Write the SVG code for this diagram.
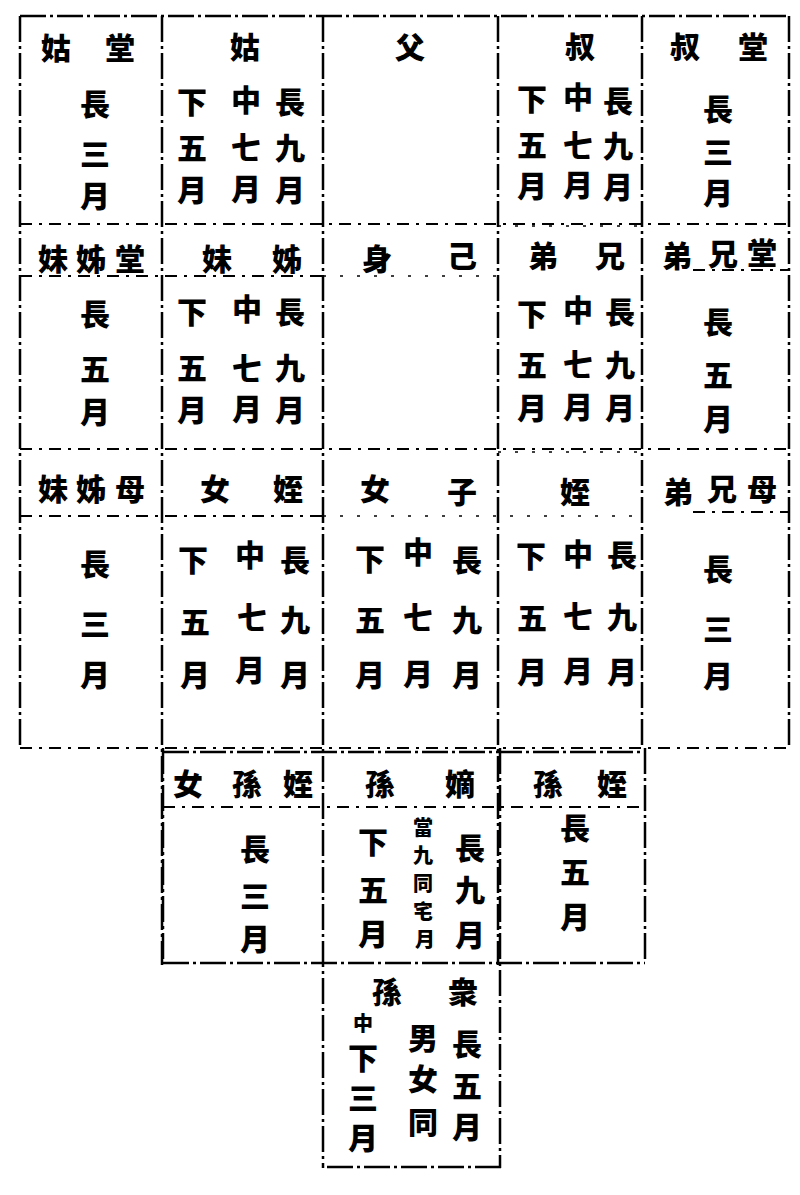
<svg xmlns="http://www.w3.org/2000/svg" width="800" height="1195" viewBox="0 0 800 1195">
<style>
.t{font-family:"Noto Sans CJK TC","Noto Sans CJK SC",sans-serif;font-weight:900;font-size:30px;fill:#000;text-anchor:middle;dominant-baseline:central}
.s{font-size:20px}
.b{stroke:#000;stroke-width:2.5;fill:none;stroke-dasharray:26 4 3 4}
.d{stroke:#000;stroke-width:2;fill:none;stroke-dasharray:12 7 3 7}
.f{stroke:#000;stroke-width:1.6;fill:none;stroke-dasharray:3 14}
</style>
<rect width="800" height="1195" fill="#fff"/>
<g id="grid">
<path class="b" d="M20 16H790M20 16V747M789 16V748M162 16V965M323 16V1168M498 16V965M642 16V748"/>
<path class="d" d="M20 224H790M20 449H790M20 748H790"/>
<path class="b" d="M163 748V963M500 748V1168M645 748V963M163 963H645M327 1167H502M163 752H645"/>
<path class="d" d="M20 276H323M693 270H790M20 516H323M693 512H790M163 807H645"/>
<path class="f" d="M323 276H498M498 226H642M323 516H642M498 452H642"/>
</g>
<g id="cell-tanggu">
<text class="t" x="56" y="46">姑</text><text class="t" x="120" y="46">堂</text>
<text class="t" x="95" y="102">長</text><text class="t" x="95" y="152">三</text><text class="t" x="95" y="194">月</text>
</g>
<g id="cell-gu">
<text class="t" x="245" y="45">姑</text>
<text class="t" x="192" y="100">下</text><text class="t" x="246" y="98">中</text><text class="t" x="290" y="100">長</text>
<text class="t" x="192" y="146">五</text><text class="t" x="246" y="145">七</text><text class="t" x="290" y="146">九</text>
<text class="t" x="192" y="188">月</text><text class="t" x="246" y="187">月</text><text class="t" x="290" y="188">月</text>
</g>
<g id="cell-fu">
<text class="t" x="410" y="45">父</text>
</g>
<g id="cell-shu">
<text class="t" x="580" y="45">叔</text>
<text class="t" x="532" y="97">下</text><text class="t" x="578" y="95">中</text><text class="t" x="618" y="99">長</text>
<text class="t" x="532" y="143">五</text><text class="t" x="578" y="143">七</text><text class="t" x="618" y="144">九</text>
<text class="t" x="532" y="184">月</text><text class="t" x="578" y="183">月</text><text class="t" x="618" y="185">月</text>
</g>
<g id="cell-tangshu">
<text class="t" x="685" y="45">叔</text><text class="t" x="753" y="45">堂</text>
<text class="t" x="718" y="107">長</text><text class="t" x="718" y="150">三</text><text class="t" x="718" y="191">月</text>
</g>
<g id="cell-tangzimei">
<text class="t" x="53" y="257">妹</text><text class="t" x="91" y="257">姊</text><text class="t" x="130" y="257">堂</text>
<text class="t" x="95" y="312">長</text><text class="t" x="95" y="367">五</text><text class="t" x="95" y="410">月</text>
</g>
<g id="cell-zimei">
<text class="t" x="217" y="257">妹</text><text class="t" x="287" y="257">姊</text>
<text class="t" x="192" y="310">下</text><text class="t" x="247" y="307">中</text><text class="t" x="290" y="310">長</text>
<text class="t" x="192" y="366">五</text><text class="t" x="247" y="366">七</text><text class="t" x="290" y="366">九</text>
<text class="t" x="192" y="408">月</text><text class="t" x="247" y="407">月</text><text class="t" x="290" y="408">月</text>
</g>
<g id="cell-jishen">
<text class="t" x="377" y="257">身</text><text class="t" x="462" y="254">己</text>
</g>
<g id="cell-xiongdi">
<text class="t" x="543" y="254">弟</text><text class="t" x="610" y="254">兄</text>
<text class="t" x="532" y="312">下</text><text class="t" x="578" y="308">中</text><text class="t" x="620" y="310">長</text>
<text class="t" x="532" y="363">五</text><text class="t" x="578" y="362">七</text><text class="t" x="620" y="363">九</text>
<text class="t" x="532" y="406">月</text><text class="t" x="578" y="405">月</text><text class="t" x="620" y="406">月</text>
</g>
<g id="cell-tangxiongdi">
<text class="t" x="677" y="254">弟</text><text class="t" x="723" y="252">兄</text><text class="t" x="762" y="251">堂</text>
<text class="t" x="718" y="320">長</text><text class="t" x="718" y="373">五</text><text class="t" x="718" y="417">月</text>
</g>
<g id="cell-muzimei">
<text class="t" x="53" y="487">妹</text><text class="t" x="91" y="487">姊</text><text class="t" x="130" y="487">母</text>
<text class="t" x="95" y="562">長</text><text class="t" x="95" y="622">三</text><text class="t" x="95" y="673">月</text>
</g>
<g id="cell-zhinv">
<text class="t" x="215" y="487">女</text><text class="t" x="288" y="487">姪</text>
<text class="t" x="193" y="558">下</text><text class="t" x="250" y="553">中</text><text class="t" x="295" y="558">長</text>
<text class="t" x="195" y="620">五</text><text class="t" x="252" y="615">七</text><text class="t" x="295" y="618">九</text>
<text class="t" x="195" y="673">月</text><text class="t" x="250" y="668">月</text><text class="t" x="295" y="673">月</text>
</g>
<g id="cell-zinv">
<text class="t" x="375" y="487">女</text><text class="t" x="462" y="490">子</text>
<text class="t" x="370" y="557">下</text><text class="t" x="418" y="550">中</text><text class="t" x="467" y="558">長</text>
<text class="t" x="370" y="618">五</text><text class="t" x="418" y="615">七</text><text class="t" x="467" y="618">九</text>
<text class="t" x="370" y="673">月</text><text class="t" x="418" y="672">月</text><text class="t" x="467" y="673">月</text>
</g>
<g id="cell-zhi">
<text class="t" x="575" y="490">姪</text>
<text class="t" x="531" y="554">下</text><text class="t" x="578" y="552">中</text><text class="t" x="622" y="553">長</text>
<text class="t" x="532" y="616">五</text><text class="t" x="578" y="614">七</text><text class="t" x="622" y="615">九</text>
<text class="t" x="532" y="670">月</text><text class="t" x="578" y="669">月</text><text class="t" x="622" y="670">月</text>
</g>
<g id="cell-muxiongdi">
<text class="t" x="678" y="490">弟</text><text class="t" x="722" y="487">兄</text><text class="t" x="762" y="487">母</text>
<text class="t" x="718" y="567">長</text><text class="t" x="718" y="627">三</text><text class="t" x="718" y="674">月</text>
</g>
<g id="cell-zhisunnv">
<text class="t" x="188" y="782">女</text><text class="t" x="247" y="782">孫</text><text class="t" x="298" y="782">姪</text>
<text class="t" x="255" y="847">長</text><text class="t" x="255" y="894">三</text><text class="t" x="255" y="937">月</text>
</g>
<g id="cell-disun">
<text class="t" x="380" y="782">孫</text><text class="t" x="460" y="782">嫡</text>
<text class="t" x="373" y="840">下</text><text class="t" x="373" y="888">五</text><text class="t" x="373" y="932">月</text>
<text class="t s" x="423" y="826">當</text><text class="t s" x="423" y="854">九</text><text class="t s" x="423" y="882">同</text><text class="t s" x="423" y="910">宅</text><text class="t s" x="425" y="938">月</text>
<text class="t" x="470" y="846">長</text><text class="t" x="470" y="888">九</text><text class="t" x="470" y="933">月</text>
</g>
<g id="cell-zhisun">
<text class="t" x="548" y="782">孫</text><text class="t" x="612" y="782">姪</text>
<text class="t" x="575" y="826">長</text><text class="t" x="575" y="870">五</text><text class="t" x="575" y="915">月</text>
</g>
<g id="cell-zhongsun">
<text class="t" x="387" y="990">孫</text><text class="t" x="463" y="990">衆</text>
<text class="t s" x="363" y="1022">中</text><text class="t" x="363" y="1056">下</text><text class="t" x="363" y="1096">三</text><text class="t" x="363" y="1136">月</text>
<text class="t" x="423" y="1036">男</text><text class="t" x="423" y="1077">女</text><text class="t" x="423" y="1120">同</text>
<text class="t" x="467" y="1042">長</text><text class="t" x="467" y="1084">五</text><text class="t" x="467" y="1125">月</text>
</g>
</svg>
